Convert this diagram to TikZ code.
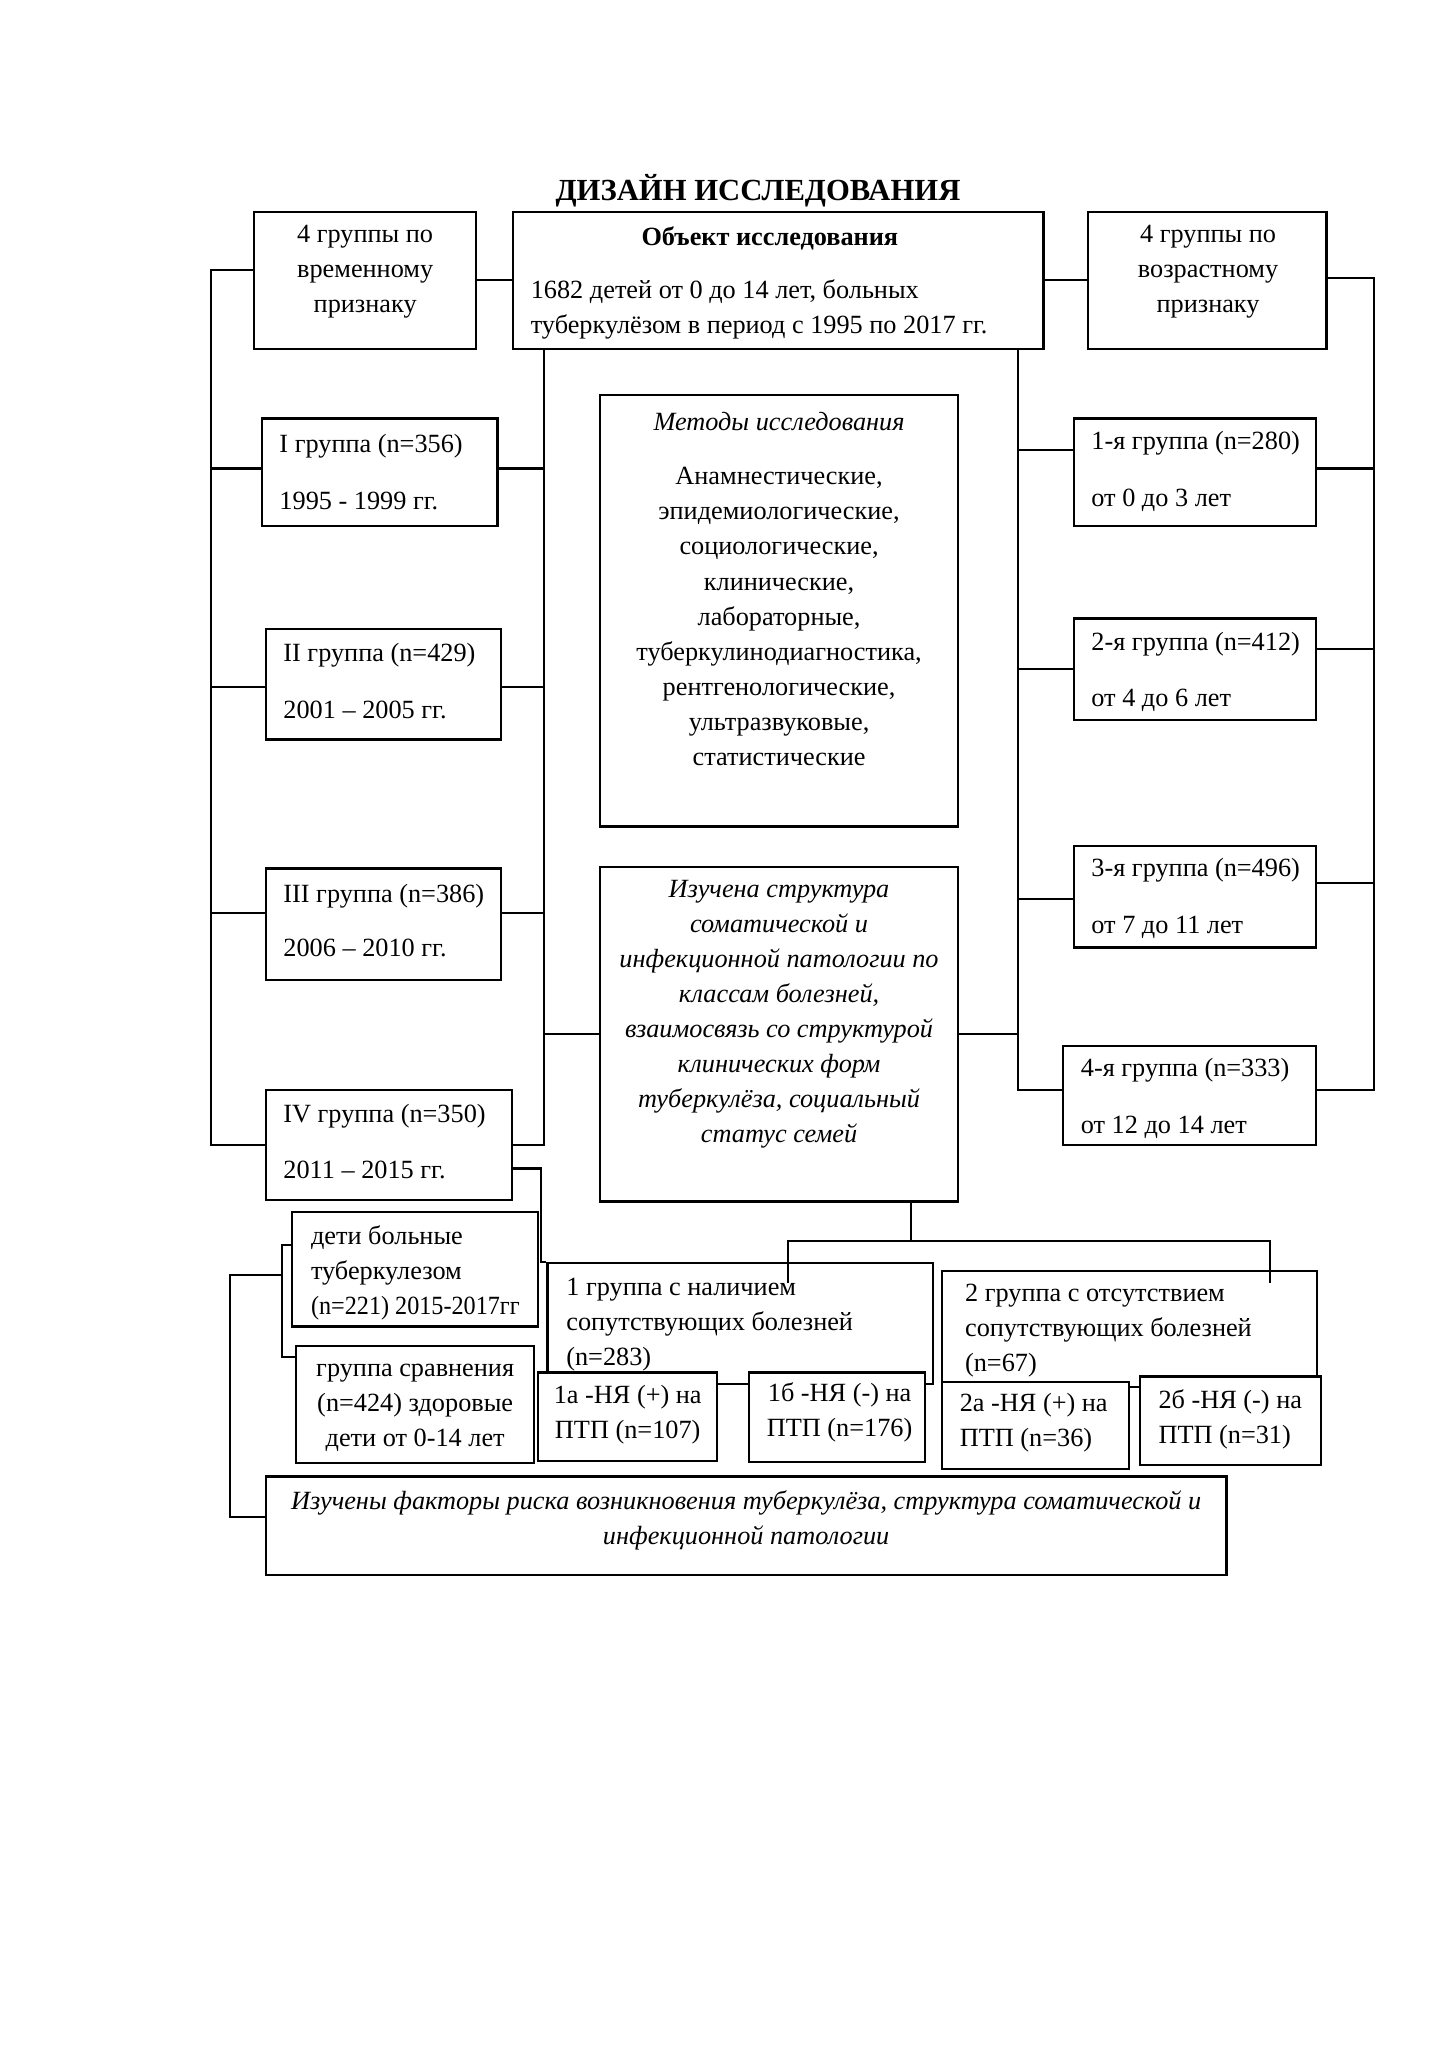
\documentclass[tikz,border=0pt]{standalone}
\usepackage{graphicx}
\usepackage{fontspec}
\setmainfont{Liberation Serif}
\usetikzlibrary{fit}

\begin{document}
\begin{tikzpicture}[x=0.5408pt,y=-0.5408pt,
	box/.style={draw, line width=0.9pt, fill=white, inner sep=0pt},
	txt/.style={inner sep=0pt, font=\fontsize{10.8}{14.4}\selectfont},
	lnk/.style={line width=0.9pt}]

	\useasboundingbox (0,0) rectangle (1100.3,1557.8);

	\node[txt, font=\fontsize{12.6}{15}\selectfont\bfseries] (title) at (576,145) {ДИЗАЙН ИССЛЕДОВАНИЯ};

	% top row
	\node[box, fit={(193,161) (362,265)}] (A) {};
	\node[box, fit={(390,161) (793,265)}] (Obj) {};
	\node[box, fit={(827,161) (1008,265)}] (B) {};
	\node[txt, align=center] (At) at (277.5,206.5) {4 группы по\\временному\\признаку};
	\node[txt, font=\fontsize{10.8}{14.4}\selectfont\bfseries] (Objh) at (585,181) {Объект исследования};
	\node[txt, align=left, anchor=west] (Objt) at (403,235.5) {1682 детей от 0 до 14 лет, больных\\туберкулёзом в период с 1995 по 2017 гг.};
	\node[txt, align=center] (Bt) at (918,206.5) {4 группы по\\возрастному\\признаку};

	% groups by period
	\node[box, fit={(199,318) (378,400)}] (G1) {};
	\node[box, fit={(202,478) (381,562)}] (G2) {};
	\node[box, fit={(202,660) (381,745)}] (G3) {};
	\node[box, fit={(202,828) (389,912)}] (G4) {};
	\node[txt, align=left, anchor=west] (G1t) at (212,358.5) {I группа (n=356)\\[8.9pt]1995 - 1999 гг.};
	\node[txt, align=left, anchor=west] (G2t) at (215,517.5) {II группа (n=429)\\[8.9pt]2001 – 2005 гг.};
	\node[txt, align=left, anchor=west] (G3t) at (215,699.5) {III группа (n=386)\\[7.8pt]2006 – 2010 гг.};
	\node[txt, align=left, anchor=west] (G4t) at (215,867.5) {IV группа (n=350)\\[8.9pt]2011 – 2015 гг.};

	% groups by age
	\node[box, fit={(816,318) (1000,400)}] (R1) {};
	\node[box, fit={(816,470) (1000,547)}] (R2) {};
	\node[box, fit={(816,643) (1000,720)}] (R3) {};
	\node[box, fit={(808,795) (1000,870)}] (R4) {};
	\node[txt, align=left, anchor=west] (R1t) at (829,358.5) {1-я группа (n=280)\\[8.9pt]от 0 до 3 лет};
	\node[txt, align=left, anchor=west] (R2t) at (829,510.5) {2-я группа (n=412)\\[8.9pt]от 4 до 6 лет};
	\node[txt, align=left, anchor=west] (R3t) at (829,682.5) {3-я группа (n=496)\\[8.9pt]от 7 до 11 лет};
	\node[txt, align=left, anchor=west] (R4t) at (821,834.5) {4-я группа (n=333)\\[8.9pt]от 12 до 14 лет};

	% middle column
	\node[box, fit={(456,300) (728,628)}] (Meth) {};
	\node[box, fit={(456,659) (728,913)}] (Izuch) {};
	\node[txt, font=\fontsize{10.8}{14.4}\selectfont\itshape] (Methh) at (592,320) {Методы исследования};
	\node[txt, align=center] (Metht) at (592,468.5) {Анамнестические,\\эпидемиологические,\\социологические,\\клинические,\\лабораторные,\\туберкулинодиагностика,\\рентгенологические,\\ультразвуковые,\\статистические};
	\node[txt, align=center, font=\fontsize{10.8}{14.4}\selectfont\itshape] (Izucht) at (592,770.5) {Изучена структура\\соматической и\\инфекционной патологии по\\классам болезней,\\взаимосвязь со структурой\\клинических форм\\туберкулёза, социальный\\статус семей};

	% lower part
	\node[box, fit={(222,921) (409,1008)}] (Deti) {};
	\node[box, fit={(225,1023) (406,1112)}] (Sravn) {};
	\node[box, fit={(416,960) (709,1052)}] (Gr1) {};
	\node[box, fit={(716,966) (1001,1054)}] (Gr2) {};
	\node[box, fit={(409,1043) (545,1110)}] (S1a) {};
	\node[box, fit={(569,1043) (703,1111)}] (S1b) {};
	\node[box, fit={(716,1050) (858,1116)}] (S2a) {};
	\node[box, fit={(866,1046) (1004,1113)}] (S2b) {};
	\node[box, fit={(202,1122) (932,1197)}] (Bottom) {};
	\node[txt, align=left, anchor=west] (Detit) at (236,967) {дети больные\\туберкулезом\\\scalebox{0.92}[1]{(n=221) 2015-2017гг}};
	\node[txt, align=center] (Sravnt) at (315.5,1070) {группа сравнения\\(n=424) здоровые\\дети от 0-14 лет};
	\node[txt, align=left, anchor=west] (Gr1t) at (430,1006.5) {1 группа с наличием\\сопутствующих болезней\\(n=283)};
	\node[txt, align=left, anchor=west] (Gr2t) at (733,1011) {2 группа с отсутствием\\сопутствующих болезней\\(n=67)};
	\node[txt, align=center] (S1at) at (477,1075) {1а -НЯ (+) на\\ПТП (n=107)};
	\node[txt, align=center] (S1bt) at (638,1073.5) {1б -НЯ (-) на\\ПТП (n=176)};
	\node[txt, align=left, anchor=west] (S2at) at (729,1081) {2а -НЯ (+) на\\ПТП (n=36)};
	\node[txt, align=left, anchor=west] (S2bt) at (880,1078.5) {2б -НЯ (-) на\\ПТП (n=31)};
	\node[txt, align=center, font=\fontsize{10.8}{14.4}\selectfont\itshape] (Bottomt) at (567,1155) {Изучены факторы риска возникновения туберкулёза, структура соматической и\\инфекционной патологии};

	% connectors
	\draw[lnk] (A.east) -- (Obj.west);
	\draw[lnk] (Obj.east) -- (B.west);

	\draw[lnk] ([yshift=4.3pt]A.west) -- ++(-32,0) coordinate (lb) |- (G4.west);
	\draw[lnk] ([yshift=1.1pt]B.east) -- ++(35,0) coordinate (rb) |- ([yshift=2.4pt]R4.east);
	\coordinate (lin) at ([xshift=13pt]Obj.south west);
	\coordinate (rin) at ([xshift=-10.8pt]Obj.south east);
	\draw[lnk] (lin) |- (G4.east);
	\draw[lnk] (rin) |- ([yshift=2.4pt]R4.west);

	\foreach \g/\s in {G1/1.6pt, G2/-1.1pt, G3/4.6pt} {
		\draw[lnk] ([yshift=\s]\g.west) -| (lb);
		\draw[lnk] ([yshift=\s]\g.east) -| (lin);
	}
	\foreach \r/\s in {R1/1.6pt, R2/8.4pt, R3/5.7pt}
		\draw[lnk] ([yshift=\s]\r.east) -| (rb);
	\foreach \r/\s in {R1/9.2pt, R2/0pt, R3/-0.8pt}
		\draw[lnk] ([yshift=\s]\r.west) -| (rin);
	\draw[lnk] (Izuch.west) -| (lin);
	\draw[lnk] (Izuch.east) -| (rin);

	\draw[lnk] ([yshift=-9.7pt]G4.east) -- ++(21,0) |- (Gr1.north west);

	\draw[lnk] ([xshift=54.1pt]Izuch.south) -- ++(0,29) coordinate (fork);
	\coordinate (in1) at (599,975);
	\coordinate (in2) at (965,975);
	\draw[lnk] (in1) |- (fork) -| (in2);

	\draw[lnk] ([yshift=10pt]Deti.west) -- ++(-7,0) coordinate (br) |- ([yshift=19.7pt]Sravn.west);
	\draw[lnk] ([yshift=-12.4pt]br) -- ++(-39.5,0) |- ([yshift=3.5pt]Bottom.west);
\end{tikzpicture}
\end{document}
